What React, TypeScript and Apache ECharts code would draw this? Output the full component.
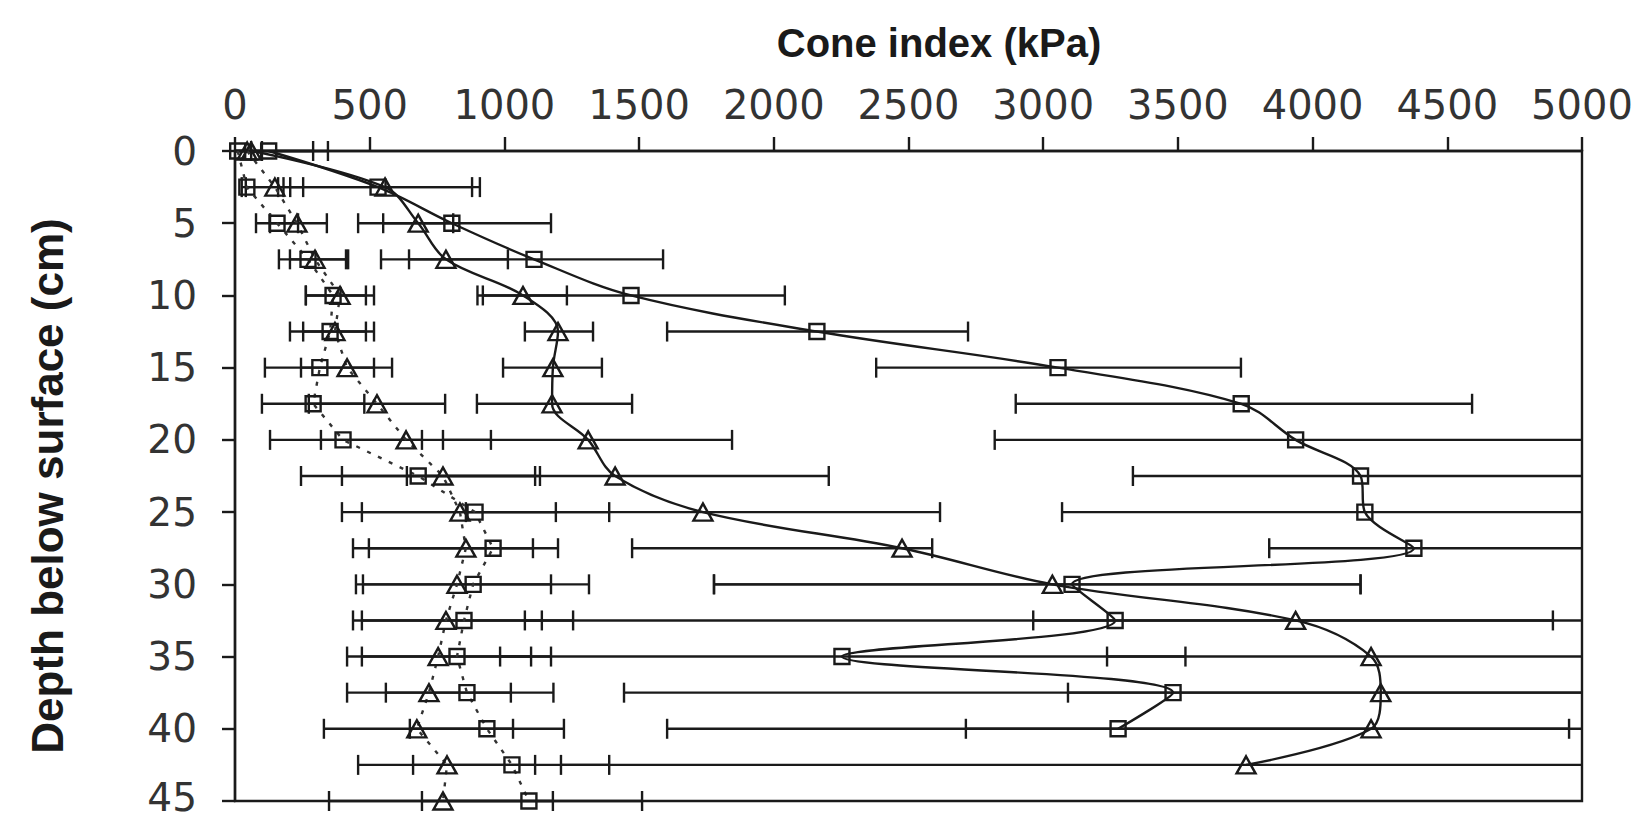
import React, { useEffect, useRef } from "react";
import * as echarts from "echarts";

// Depth below surface (cm)
const depths = [0, 2.5, 5, 7.5, 10, 12.5, 15, 17.5, 20, 22.5, 25, 27.5, 30, 32.5, 35, 37.5, 40, 42.5, 45];

// X axis ticks (kPa)
const xTicks = [0, 500, 1000, 1500, 2000, 2500, 3000, 3500, 4000, 4500, 5000];
const yTicks = [0, 5, 10, 15, 20, 25, 30, 35, 40, 45];

// Solid line, squares (0 .. 40 cm)
const solidSquareMean = [125, 531, 805, 1110, 1470, 2160, 3055, 3735, 3937, 4178, 4194, 4376, 3107, 3267, 2253, 3482, 3278];
const solidSquareLow = [0, 180, 457, 646, 900, 1604, 2380, 2898, 2820, 3333, 3070, 3839, 1778, 1076, 984, 1444, 1604];
const solidSquareHigh = [345, 880, 1173, 1589, 2041, 2721, 3734, 4592, 5054, 5023, 5318, 5100, 4178, 5458, 3528, 5520, 4952];

// Solid line, triangles (0 .. 42.5 cm)
const solidTriMean = [60, 557, 680, 783, 1069, 1199, 1180, 1177, 1311, 1411, 1737, 2476, 3034, 3937, 4217, 4253, 4217, 3753];
const solidTriLow = [0, 205, 550, 542, 920, 1076, 995, 898, 772, 638, 857, 1474, 1778, 2963, 3237, 3092, 2713, 1210];
const solidTriHigh = [290, 909, 810, 1013, 1232, 1329, 1362, 1474, 1845, 2204, 2617, 2588, 4178, 4892, 5197, 5414, 5721, 6296];

// Dotted line, squares (0 .. 45 cm)
const dottedSquareMean = [10, 44, 156, 271, 364, 353, 315, 290, 401, 680, 891, 958, 884, 850, 824, 861, 935, 1028, 1091];
const dottedSquareLow = [0, 25, 78, 163, 263, 204, 111, 100, 130, 245, 397, 497, 449, 471, 471, 560, 649, 661, 694];
const dottedSquareHigh = [60, 160, 234, 412, 486, 486, 516, 480, 694, 1114, 1389, 1199, 1314, 1255, 1173, 1182, 1221, 1389, 1511];

// Dotted line, triangles (0 .. 45 cm)
const dottedTriMean = [45, 148, 230, 297, 390, 371, 416, 527, 635, 772, 835, 857, 824, 783, 754, 720, 675, 787, 772];
const dottedTriLow = [0, 40, 130, 204, 263, 253, 245, 274, 319, 397, 471, 438, 475, 438, 416, 416, 330, 457, 349];
const dottedTriHigh = [100, 253, 341, 420, 516, 516, 583, 780, 950, 1132, 1191, 1106, 1173, 1139, 1099, 1024, 1032, 1114, 1180];

const X_MIN = 0;
const X_MAX = 5000;
const INK = "#1a1a1a";

function pairs(values: number[]) {
  return values.map((v, i) => [v, depths[i]]);
}

function errorBars(name: string, lows: number[], highs: number[]) {
  return {
    type: "custom",
    name: name + " error",
    silent: true,
    z: 1,
    data: lows.map((l, i) => [l, highs[i], depths[i]]),
    encode: { x: [0, 1], y: 2 },
    renderItem: (_params: any, api: any) => {
      const lo = api.value(0);
      const hi = api.value(1);
      const d = api.value(2);
      const p1 = api.coord([Math.max(lo, X_MIN), d]);
      const p2 = api.coord([Math.min(hi, X_MAX), d]);
      const style = { stroke: INK, lineWidth: 2.4 };
      const children: any[] = [
        { type: "line", shape: { x1: p1[0], y1: p1[1], x2: p2[0], y2: p2[1] }, style },
      ];
      const capH = 10;
      if (lo > X_MIN) {
        children.push({ type: "line", shape: { x1: p1[0], y1: p1[1] - capH, x2: p1[0], y2: p1[1] + capH }, style });
      }
      if (hi < X_MAX) {
        children.push({ type: "line", shape: { x1: p2[0], y1: p2[1] - capH, x2: p2[0], y2: p2[1] + capH }, style });
      }
      return { type: "group", children };
    },
  };
}

function lineSeries(name: string, values: number[], symbol: string, dotted: boolean) {
  return {
    type: "line",
    name,
    z: 3,
    data: pairs(values),
    smooth: dotted ? false : 0.35,
    symbol: symbol === "square" ? "rect" : "triangle",
    symbolSize: symbol === "square" ? 15 : [19, 17],
    showSymbol: true,
    lineStyle: dotted
      ? { color: "#333", width: 2.4, type: [4, 8] }
      : { color: INK, width: 2.4, type: "solid" },
    itemStyle: { color: "rgba(255,255,255,0)", borderColor: INK, borderWidth: 2.4 },
  };
}

export default function App() {
  const ref = useRef<HTMLDivElement>(null);

  useEffect(() => {
    if (!ref.current) return;
    const chart = echarts.init(ref.current, null, { renderer: "svg" });
    const lastY = yTicks[yTicks.length - 1];
    const option: any = {
      animation: false,
      backgroundColor: "#ffffff",
      grid: {
        left: 235,
        top: 151,
        right: 63,
        bottom: 19,
        containLabel: false,
        outerBoundsMode: "none",
        show: true,
        borderColor: INK,
        borderWidth: 2.4,
        backgroundColor: "transparent",
      },
      xAxis: {
        type: "value",
        position: "top",
        min: X_MIN,
        max: X_MAX,
        interval: 500,
        axisLine: { show: true, lineStyle: { color: INK, width: 2.4 } },
        axisTick: { show: true, inside: false, length: 14, lineStyle: { color: INK, width: 2.4 } },
        axisLabel: {
          show: true,
          margin: 30,
          fontFamily: "DejaVu Sans",
          fontSize: 40,
          lineHeight: 32,
          color: "#333",
          formatter: (v: number) => (xTicks.includes(v) ? String(v) : ""),
        },
        splitLine: { show: false },
      },
      yAxis: {
        type: "value",
        inverse: true,
        min: 0,
        max: 45,
        interval: 5,
        axisLine: { show: true, lineStyle: { color: INK, width: 2.4 } },
        axisTick: { show: true, inside: false, length: 13, lineStyle: { color: INK, width: 2.4 } },
        axisLabel: {
          show: true,
          margin: 38,
          fontFamily: "DejaVu Sans",
          fontSize: 39,
          lineHeight: 28,
          color: "#333",
          formatter: (v: number) =>
            v === lastY ? "{e|" + v + "}" : yTicks.includes(v) ? String(v) : "",
          rich: {
            e: {
              fontFamily: "DejaVu Sans",
              fontSize: 39,
              lineHeight: 28,
              color: "#333",
              padding: [0, 0, 8, 0],
            },
          },
        },
        splitLine: { show: false },
      },
      graphic: [
        {
          type: "text",
          x: 939,
          y: 43,
          style: {
            text: "Cone index (kPa)",
            fontFamily: "Liberation Sans",
            fontWeight: "bold",
            fontSize: 40,
            fill: INK,
            textAlign: "center",
            textVerticalAlign: "middle",
          },
        },
        {
          type: "text",
          x: 47,
          y: 486,
          rotation: Math.PI / 2,
          style: {
            text: "Depth below surface (cm)",
            fontFamily: "Liberation Sans",
            fontWeight: "bold",
            fontSize: 44,
            fill: INK,
            textAlign: "center",
            textVerticalAlign: "middle",
          },
        },
      ],
      series: [
        errorBars("Solid squares", solidSquareLow, solidSquareHigh),
        errorBars("Solid triangles", solidTriLow, solidTriHigh),
        errorBars("Dotted squares", dottedSquareLow, dottedSquareHigh),
        errorBars("Dotted triangles", dottedTriLow, dottedTriHigh),
        lineSeries("Solid squares", solidSquareMean, "square", false),
        lineSeries("Solid triangles", solidTriMean, "triangle", false),
        lineSeries("Dotted squares", dottedSquareMean, "square", true),
        lineSeries("Dotted triangles", dottedTriMean, "triangle", true),
      ],
    };
    chart.setOption(option);
    return () => chart.dispose();
  }, []);

  return (
    <div
      ref={ref}
      style={{ position: "fixed", left: 0, top: 0, width: 1645, height: 820, background: "#fff" }}
    />
  );
}
